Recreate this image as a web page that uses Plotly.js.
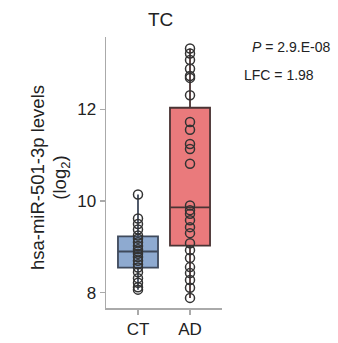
<!DOCTYPE html>
<html>
<head>
<meta charset="utf-8">
<script src="https://cdn.plot.ly/plotly-3.0.1.min.js"></script>
<style>html,body{margin:0;padding:0;background:#fff;}#chart{width:338px;height:343px;}</style>
</head>
<body>
<div id="chart"></div>
<script>
// Data
var groups = ['CT', 'AD'];
var ctValues = [10.14, 9.62, 9.50, 9.38, 9.25, 9.18, 9.10, 9.02, 8.95, 8.90, 8.85, 8.78, 8.70, 8.62, 8.55, 8.45, 8.32, 8.22, 8.12, 8.07];
var adValues = [13.32, 13.21, 13.07, 12.88, 12.72, 12.68, 12.30, 11.72, 11.55, 11.24, 11.13, 10.81, 9.90, 9.80, 9.72, 9.58, 9.43, 9.30, 9.08, 8.93, 8.76, 8.56, 8.43, 8.28, 8.11, 7.89];
var q1 = [8.55, 9.03];
var medians = [8.90, 9.86];
var q3 = [9.23, 12.03];
var lowerFence = [8.07, 7.89];
var upperFence = [10.14, 13.32];
var yTicks = [8, 10, 12];
var pLabel = 'P = 2.9.E-08';
var lfcLabel = 'LFC = 1.98';

var fills = ['#8eaad0', '#ea7a7c'];
var outlines = ['#3f4a5c', '#4a3434'];

var traces = [];
groups.forEach(function(g, i) {
  traces.push({
    type: 'box',
    x: [g],
    q1: [q1[i]], median: [medians[i]], q3: [q3[i]],
    lowerfence: [lowerFence[i]], upperfence: [upperFence[i]],
    fillcolor: fills[i],
    line: {color: outlines[i], width: 1.8},
    whiskerwidth: 0,
    width: 0.77,
    boxpoints: false,
    hoverinfo: 'skip',
    showlegend: false
  });
});
var pts = [ctValues, adValues];
groups.forEach(function(g, i) {
  traces.push({
    type: 'scatter',
    mode: 'markers',
    x: pts[i].map(function() { return g; }),
    y: pts[i],
    marker: {symbol: 'circle-open', size: 9, color: '#333333', line: {width: 1.5, color: '#333333'}},
    showlegend: false,
    hoverinfo: 'skip'
  });
});

var layout = {
  width: 338, height: 343,
  margin: {l: 106, r: 116, t: 37, b: 35},
  paper_bgcolor: '#fff', plot_bgcolor: '#fff',
  font: {family: 'Liberation Sans, Arial, sans-serif', color: '#222'},
  xaxis: {
    type: 'category', categoryorder: 'array', categoryarray: groups,
    range: [-0.615, 1.615],
    showline: true, linecolor: '#aaaaaa', linewidth: 1.5,
    ticks: 'outside', ticklen: 5, tickcolor: '#aaaaaa', tickwidth: 1.2,
    tickfont: {size: 17, color: '#222'},
    showgrid: false, zeroline: false, fixedrange: true
  },
  yaxis: {
    range: [7.67, 13.57],
    tickvals: yTicks, ticktext: yTicks.map(String),
    showline: true, linecolor: '#aaaaaa', linewidth: 1.5,
    ticks: 'outside', ticklen: 5, tickcolor: '#aaaaaa', tickwidth: 1.2,
    tickfont: {size: 17, color: '#222'},
    showgrid: false, zeroline: false, fixedrange: true
  },
  annotations: [
    {text: 'TC', xref: 'paper', yref: 'paper', x: 0.47, y: 1.0, yshift: 18, xanchor: 'center', yanchor: 'middle', showarrow: false, font: {size: 19, color: '#222'}},
    {text: 'hsa-miR-501-3p levels', xref: 'paper', yref: 'paper', x: -0.585, y: 0.48, textangle: -90, xanchor: 'center', yanchor: 'middle', showarrow: false, font: {size: 18.5, color: '#222'}},
    {text: '(log<sub>2</sub>)', xref: 'paper', yref: 'paper', x: -0.39, y: 0.48, textangle: -90, xanchor: 'center', yanchor: 'middle', showarrow: false, font: {size: 18.5, color: '#222'}},
    {text: '<i>P</i>' + pLabel.slice(1), xref: 'paper', yref: 'paper', x: 1.245, y: 0.963, xanchor: 'left', yanchor: 'middle', showarrow: false, font: {size: 14, color: '#222'}},
    {text: lfcLabel, xref: 'paper', yref: 'paper', x: 1.17, y: 0.86, xanchor: 'left', yanchor: 'middle', showarrow: false, font: {size: 14, color: '#222'}}
  ]
};

Plotly.newPlot('chart', traces, layout, {displayModeBar: false, staticPlot: true});
</script>
</body>
</html>
